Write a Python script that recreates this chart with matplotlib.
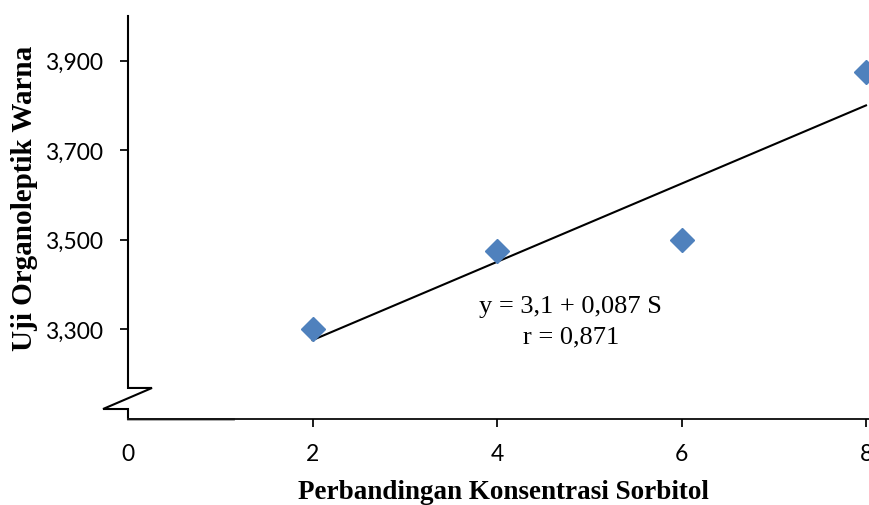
import matplotlib.pyplot as plt
import numpy as np

# Data dibaca dari gambar referensi
sorbitol = [2, 4, 6, 8]
warna = [3.300, 3.475, 3.500, 3.875]
y_ticks = [3.3, 3.5, 3.7, 3.9]
y_tick_labels = ["3,300", "3,500", "3,700", "3,900"]
x_ticks = [0, 2, 4, 6, 8]
persamaan = "y = 3,1 + 0,087 S"
korelasi = "r = 0,871"

fig = plt.figure(figsize=(8.69, 5.06), dpi=100)
ax = fig.add_axes([128 / 869, 86 / 506, 741 / 869, 403 / 506])

# Titik data
ax.plot(sorbitol, warna, linestyle='none', marker='D', markersize=12,
        color='#4F81BD', clip_on=True, zorder=3)

# Garis regresi linier
slope, intercept = np.polyfit(sorbitol, warna, 1)
xs = np.array([min(sorbitol), max(sorbitol)])
ax.plot(xs, intercept + slope * xs, color='black', linewidth=1.5, zorder=2)

ax.text(4.8, 3.351, persamaan, ha='center', va='center', fontsize=19,
        family='Liberation Serif')
ax.text(4.8, 3.284, korelasi, ha='center', va='center', fontsize=19,
        family='Liberation Serif')

ax.set_xlim(0, 8.0325)
ax.set_ylim(3.0985, 4.0)

ax.set_xticks(x_ticks)
ax.set_xticklabels([str(v) for v in x_ticks])
ax.set_yticks(y_ticks)
ax.set_yticklabels(y_tick_labels)
ax.tick_params(axis='both', direction='out', length=6, width=1.25,
               labelsize=16.5)
ax.tick_params(axis='x', pad=11)
ax.tick_params(axis='y', pad=12)
for lbl in ax.get_xticklabels() + ax.get_yticklabels():
    lbl.set_family('Lato')
ax.xaxis.get_major_ticks()[0].tick1line.set_visible(False)

for side in ['top', 'right', 'left']:
    ax.spines[side].set_visible(False)
ax.spines['bottom'].set_linewidth(1.25)

# Sumbu Y dengan tanda patah
ax.plot([0, 0, 0.0324, -0.0337, 0, 0], [1, 0.077, 0.077, 0.0248, 0.0248, 0],
        transform=ax.transAxes, color='black', linewidth=1.5, clip_on=False,
        solid_joinstyle='miter')
ax.plot([0, 0.142], [0, 0], transform=ax.transAxes, color='#a0a0a0',
        linewidth=2, clip_on=False)

ax.set_xlabel("Perbandingan Konsentrasi Sorbitol", family='Liberation Serif',
              fontweight='bold', fontsize=19.5)
ax.set_ylabel("Uji Organoleptik Warna", family='Liberation Serif',
              fontweight='bold', fontsize=21)
ax.xaxis.set_label_coords(0.506, -0.148)
ax.yaxis.set_label_coords(-0.1215, 0.551)

plt.savefig('out.png', dpi=100)
